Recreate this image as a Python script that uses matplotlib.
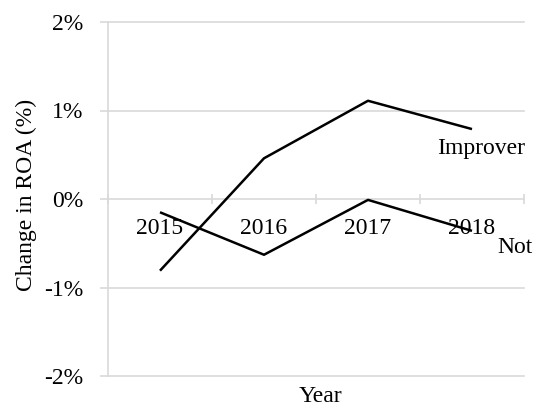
import matplotlib
matplotlib.use("Agg")
import matplotlib.pyplot as plt
from matplotlib.ticker import FixedLocator, FuncFormatter

years = ["2015", "2016", "2017", "2018"]
improver = [-0.81, 0.46, 1.11, 0.79]
not_improver = [-0.15, -0.63, -0.01, -0.36]
y_ticks = [-2, -1, 0, 1, 2]

plt.rcParams['font.family'] = ['Liberation Serif', 'DejaVu Serif']
W, H = 542, 409
fs = 17
fig = plt.figure(figsize=(W / 100, H / 100), dpi=100)
ax = fig.add_axes([108 / W, 1 - 376 / H, (524 - 108) / W, (376 - 22) / H])

grid = "#d9d9d9"
xs = [i + 0.5 for i in range(len(years))]
ax.plot(xs, improver, color="black", lw=1.8, solid_capstyle="butt", zorder=3)
ax.plot(xs, not_improver, color="black", lw=1.8, solid_capstyle="butt", zorder=3)

ax.set_xlim(0, len(years))
ax.set_ylim(-2, 2)
ax.set_yticks(y_ticks)
ax.yaxis.set_major_formatter(FuncFormatter(lambda v, p: f"{v:.0f}%"))
for v in y_ticks:
    if v != 0:
        ax.axhline(v, color=grid, lw=1.2, zorder=1, clip_on=False)

for s in ["top", "right"]:
    ax.spines[s].set_visible(False)
ax.spines["left"].set_color(grid)
ax.spines["left"].set_linewidth(1.2)
ax.spines["bottom"].set_position(("data", 0))
ax.spines["bottom"].set_color(grid)
ax.spines["bottom"].set_linewidth(1.2)
ax.spines["bottom"].set_zorder(1)

ax.tick_params(axis="y", which="major", direction="out", length=5.5, width=1.2,
               color=grid, pad=12, labelsize=fs, labelcolor="black")
ax.xaxis.set_major_locator(FixedLocator(list(range(len(years) + 1))))
ax.xaxis.set_minor_locator(FixedLocator(xs))
ax.xaxis.set_minor_formatter(FuncFormatter(lambda v, p: years[int(v)]))
ax.tick_params(axis="x", which="major", direction="inout", length=7, width=1.2,
               color=grid, labelbottom=False)
ax.tick_params(axis="x", which="minor", length=0, pad=14, labelsize=fs,
               labelcolor="black")
for t in ax.xaxis.get_minorticklabels():
    t.set_zorder(2)

ax.text(3.16, 0.57, "Improver", fontsize=fs, ha="left", va="center")
ax.text(3.74, -0.55, "Not", fontsize=fs, ha="left", va="center")

fig.text(26 / W, 1 - 195 / H, "Change in ROA (%)", rotation=90, fontsize=fs,
         ha="center", va="center")
fig.text(320 / W, 1 - 396 / H, "Year", fontsize=fs, ha="center", va="center")

fig.savefig("out.png", dpi=100)
